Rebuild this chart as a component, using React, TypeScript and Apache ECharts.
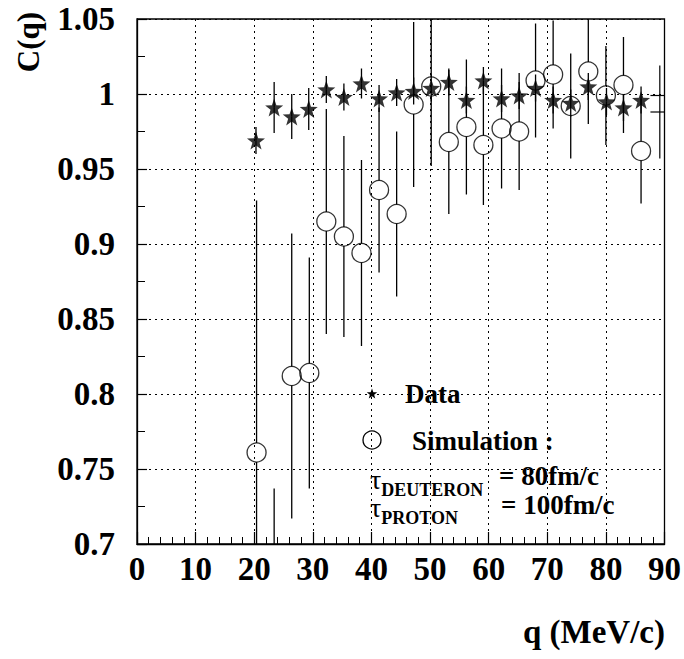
import React, { useEffect, useRef } from "react";
import * as echarts from "echarts";

// ---- data ----
const dataQ = [20.3, 23.4, 26.4, 29.3, 32.3, 35.3, 38.3, 41.3, 44.3, 47.2, 50.2, 53.2, 56.2, 59.1, 62.2, 65.2, 68.0, 71.0, 74.0, 77.0, 80.1, 83.0, 86.0];
const dataC = [0.969, 0.991, 0.985, 0.990, 1.003, 0.998, 1.007, 0.997, 1.001, 1.002, 1.004, 1.008, 0.996, 1.009, 0.997, 0.999, 1.004, 0.996, 0.994, 1.005, 0.995, 0.991, 0.996];
const dataErr = [0.009, 0.017, 0.015, 0.014, 0.009, 0.009, 0.010, 0.009, 0.009, 0.009, 0.009, 0.009, 0.009, 0.009, 0.009, 0.009, 0.009, 0.009, 0.009, 0.009, 0.009, 0.009, 0.009];

const simQ = [20.4, 23.4, 26.4, 29.4, 32.3, 35.3, 38.3, 41.3, 44.3, 47.2, 50.2, 53.2, 56.2, 59.1, 62.2, 65.2, 68.0, 71.0, 74.0, 77.0, 80.0, 83.0, 86.0];
const simC = [0.761, 0.62, 0.812, 0.814, 0.915, 0.905, 0.894, 0.936, 0.920, 0.993, 1.005, 0.968, 0.978, 0.966, 0.977, 0.975, 1.009, 1.013, 0.992, 1.015, 0.999, 1.006, 0.962];
const simErr = [0.168, 0.117, 0.095, 0.077, 0.075, 0.067, 0.062, 0.055, 0.055, 0.055, 0.053, 0.048, 0.045, 0.040, 0.040, 0.039, 0.038, 0.036, 0.035, 0.035, 0.033, 0.032, 0.035];

// partially hidden point at the right edge
const edgeQ = [89.2];
const edgeC = [0.988];
const edgeErr = [0.031];
const edgeCapC = [0.999, 0.988];
const edgeCapQ = [87.6, 90];

const xTicks = { min: 0, max: 90, interval: 10 };
const yTicks = { min: 0.7, max: 1.05, interval: 0.05 };

const FONT = "Liberation Serif";
const STAR = "path://M0,-10 L2.35,-3.24 L9.51,-3.09 L3.8,1.24 L5.88,8.09 L0,4 L-5.88,8.09 L-3.8,1.24 L-9.51,-3.09 L-2.35,-3.24 Z";

function errRender(radius: number) {
  return (params: any, api: any) => {
    const x = api.value(0), y = api.value(1), e = api.value(2);
    const c = api.coord([x, y]);
    const top = api.coord([x, y + e]);
    const bot = api.coord([x, y - e]);
    const children: any[] = [];
    const style = { stroke: "#000", lineWidth: 1.3 };
    if (top[1] < c[1] - radius) children.push({ type: "line", shape: { x1: c[0], y1: top[1], x2: c[0], y2: c[1] - radius }, style });
    if (bot[1] > c[1] + radius) children.push({ type: "line", shape: { x1: c[0], y1: c[1] + radius, x2: c[0], y2: bot[1] }, style });
    return { type: "group", children };
  };
}

function buildOption(): any {
  const starPts: [number, number][] = [];
  for (let i = 0; i < 10; i++) {
    const a = -Math.PI / 2 + (i * Math.PI) / 5;
    const r = i % 2 === 0 ? 5.5 : 2.3;
    starPts.push([372 + r * Math.cos(a), 394 + r * Math.sin(a)]);
  }
  const rich = {
    t: { fontFamily: FONT, fontSize: 28, fill: "#000", verticalAlign: "bottom", padding: [0, 0, 6, 0] },
    s: { fontFamily: FONT, fontWeight: "bold", fontSize: 18, fill: "#000", verticalAlign: "bottom" },
  };
  return {
    animation: false,
    backgroundColor: "#fff",
    textStyle: { fontFamily: FONT },
    grid: { left: 137, right: 19, top: 19, bottom: 115, show: true, borderColor: "#000", borderWidth: 1.3, backgroundColor: "transparent" },
    xAxis: {
      type: "value",
      min: xTicks.min, max: xTicks.max, interval: xTicks.interval,
      axisLine: { show: true, lineStyle: { color: "#000", width: 1.3 } },
      axisTick: { show: true, inside: true, length: 12, lineStyle: { color: "#000", width: 1.2 } },
      minorTick: { show: true, splitNumber: 5, length: 7, lineStyle: { color: "#000", width: 1 } },
      splitLine: { show: true, lineStyle: { color: "#000", type: [2, 4], width: 1 } },
      axisLabel: { color: "#000", fontFamily: FONT, fontWeight: "bold", fontSize: 33, margin: 8 },
    },
    yAxis: {
      type: "value",
      min: yTicks.min, max: yTicks.max, interval: yTicks.interval,
      axisLine: { show: true, lineStyle: { color: "#000", width: 1.3 } },
      axisTick: { show: true, inside: true, length: 10, lineStyle: { color: "#000", width: 1.2 } },
      minorTick: { show: true, splitNumber: 2, length: 8, lineStyle: { color: "#000", width: 1 } },
      splitLine: { show: true, lineStyle: { color: "#000", type: [2, 4], width: 1 } },
      axisLabel: {
        color: "#000", fontFamily: FONT, fontWeight: "bold", fontSize: 33, margin: 22,
        formatter: (v: number) => String(+v.toFixed(2)),
      },
    },
    series: [
      {
        type: "custom", clip: true, z: 2,
        data: simQ.map((q, i) => [q, simC[i], simErr[i]]),
        renderItem: errRender(9.5),
      },
      {
        type: "scatter", z: 3,
        data: simQ.map((q, i) => [q, simC[i]]),
        symbol: "circle", symbolSize: 19,
        itemStyle: { color: "rgba(0,0,0,0)", borderColor: "#000", borderWidth: 1.3 },
      },
      {
        type: "custom", clip: true, z: 4,
        data: dataQ.map((q, i) => [q, dataC[i], dataErr[i]]),
        renderItem: errRender(0),
      },
      {
        type: "scatter", z: 5,
        data: dataQ.map((q, i) => [q, dataC[i]]),
        symbol: STAR, symbolSize: 18,
        itemStyle: { color: "#000" },
      },
      {
        type: "custom", clip: true, z: 4,
        data: edgeQ.map((q, i) => [q, edgeC[i], edgeErr[i]]),
        renderItem: (params: any, api: any) => {
          const x = api.value(0), y = api.value(1), e = api.value(2);
          const top = api.coord([x, y + e]);
          const bot = api.coord([x, y - e]);
          const style = { stroke: "#000", lineWidth: 1.2 };
          const children: any[] = [{ type: "line", shape: { x1: top[0], y1: top[1], x2: bot[0], y2: bot[1] }, style }];
          edgeCapC.forEach((cv) => {
            const a = api.coord([edgeCapQ[0], cv]);
            const b = api.coord([edgeCapQ[1], cv]);
            children.push({ type: "line", shape: { x1: a[0], y1: a[1], x2: b[0], y2: b[1] }, style });
          });
          return { type: "group", children };
        },
      },
    ],
    graphic: [
      { type: "text", x: 28, y: 42, rotation: Math.PI / 2, style: { text: "C(q)", fontFamily: FONT, fontWeight: "bold", fontSize: 31, fill: "#000", align: "center", verticalAlign: "middle" } },
      { type: "text", x: 665, y: 632, style: { text: "q (MeV/c)", fontFamily: FONT, fontWeight: "bold", fontSize: 33, fill: "#000", align: "right", verticalAlign: "middle" } },
      { type: "polygon", shape: { points: starPts }, style: { fill: "#000" } },
      { type: "text", x: 405, y: 394, style: { text: "Data", fontFamily: FONT, fontWeight: "bold", fontSize: 27, fill: "#000", align: "left", verticalAlign: "middle" } },
      { type: "circle", shape: { cx: 372, cy: 440, r: 9 }, style: { fill: "none", stroke: "#000", lineWidth: 1.3 } },
      { type: "text", x: 412, y: 441, style: { text: "Simulation :", fontFamily: FONT, fontWeight: "bold", fontSize: 27, fill: "#000", align: "left", verticalAlign: "middle" } },
      { type: "text", x: 370, y: 482, style: { text: "{t|τ}{s|DEUTERON}", fontFamily: FONT, fill: "#000", align: "left", verticalAlign: "middle", rich } },
      { type: "text", x: 499, y: 476, style: { text: "= 80fm/c", fontFamily: FONT, fontWeight: "bold", fontSize: 27, fill: "#000", align: "left", verticalAlign: "middle" } },
      { type: "text", x: 370, y: 510, style: { text: "{t|τ}{s|PROTON}", fontFamily: FONT, fill: "#000", align: "left", verticalAlign: "middle", rich } },
      { type: "text", x: 501, y: 505, style: { text: "= 100fm/c", fontFamily: FONT, fontWeight: "bold", fontSize: 27, fill: "#000", align: "left", verticalAlign: "middle" } },
    ],
  };
}

export default function App() {
  const ref = useRef<HTMLDivElement>(null);
  useEffect(() => {
    if (!ref.current) return;
    const chart = echarts.init(ref.current, null, { renderer: "svg" });
    chart.setOption(buildOption());
    return () => chart.dispose();
  }, []);
  return <div ref={ref} style={{ position: "fixed", left: 0, top: 0, width: 684, height: 659 }} />;
}
